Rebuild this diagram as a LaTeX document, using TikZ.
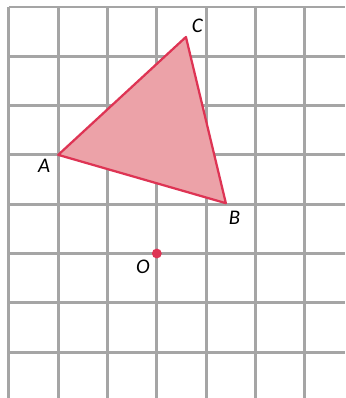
\documentclass[tikz,border=0pt]{standalone}
\usepackage{fontspec}
\setsansfont{Carlito}
\usetikzlibrary{positioning}
\definecolor{gridgray}{RGB}{165,165,165}
\definecolor{trired}{RGB}{222,52,84}
\definecolor{trifill}{RGB}{236,162,168}

\begin{document}
\begin{tikzpicture}[
  gridline/.style={draw=gridgray, line width=1.6pt},
  tri/.style={draw=trired, fill=trifill, line width=1.3pt, line join=round},
  ptlabel/.style={font=\sffamily\itshape\large, inner sep=1pt}
]
\useasboundingbox (-0.18,-0.93) rectangle (6.82,7.14);
\draw[gridline] (0,-0.93) grid (6.82,7);
\coordinate (A) at (1,4);
\coordinate (B) at (4.4,3.02);
\coordinate (C) at (3.59,6.39);
\coordinate (O) at (3,2);
\filldraw[tri] (A) -- (B) -- (C) -- cycle;
\fill[trired] (O) circle (0.1);
\node[ptlabel, below left=0.05cm and 0.12cm of A] (lA) {A};
\node[ptlabel, below right=0.12cm and 0.02cm of B] (lB) {B};
\node[ptlabel, above right=0.05cm and 0.08cm of C] (lC) {C};
\node[ptlabel, below left=0.08cm and 0.1cm of O] (lO) {O};
\end{tikzpicture}
\end{document}
